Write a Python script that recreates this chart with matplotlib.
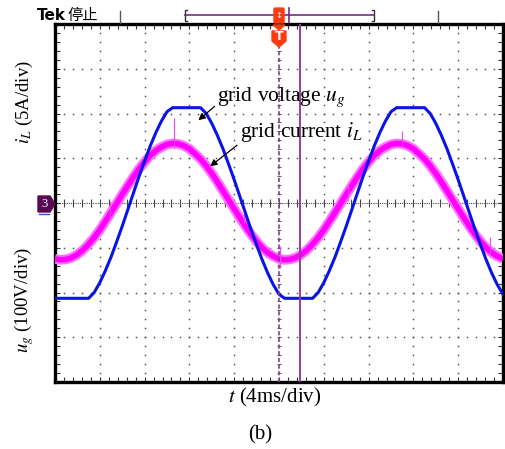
import matplotlib
matplotlib.use("Agg")
import matplotlib.pyplot as plt
from matplotlib.patches import Polygon, FancyBboxPatch
from matplotlib.ticker import MultipleLocator

# --- data (time in ms, amplitude in divisions), 0.5 ms steps ---
t_ms = [k * 0.5 for k in range(81)]
u_grid = [-2.13, -2.13, -2.13, -2.13, -2.13, -2.13, -2.13, -2.00, -1.78, -1.51,
          -1.21, -0.87, -0.52, -0.15, 0.22, 0.59, 0.94, 1.27, 1.57, 1.83,
          2.04, 2.13, 2.13, 2.13, 2.13, 2.13, 2.13, 2.00, 1.78, 1.51,
          1.21, 0.87, 0.52, 0.15, -0.22, -0.59, -0.94, -1.27, -1.57, -1.83,
          -2.04, -2.13, -2.13, -2.13, -2.13, -2.13, -2.13, -2.00, -1.78, -1.51,
          -1.21, -0.87, -0.52, -0.15, 0.22, 0.59, 0.94, 1.27, 1.57, 1.83,
          2.04, 2.13, 2.13, 2.13, 2.13, 2.13, 2.13, 2.00, 1.78, 1.51,
          1.21, 0.87, 0.52, 0.15, -0.22, -0.59, -0.94, -1.27, -1.57, -1.83, -2.04]
i_grid = [-1.25, -1.27, -1.26, -1.22, -1.15, -1.05, -0.92, -0.77, -0.60, -0.41,
          -0.21, -0.01, 0.19, 0.39, 0.58, 0.76, 0.92, 1.06, 1.17, 1.25,
          1.31, 1.33, 1.32, 1.28, 1.21, 1.10, 0.98, 0.83, 0.66, 0.47,
          0.27, 0.07, -0.13, -0.33, -0.52, -0.70, -0.86, -1.00, -1.11, -1.19,
          -1.25, -1.27, -1.26, -1.22, -1.15, -1.05, -0.92, -0.77, -0.60, -0.41,
          -0.21, -0.01, 0.19, 0.39, 0.58, 0.76, 0.92, 1.06, 1.17, 1.25,
          1.31, 1.33, 1.32, 1.28, 1.21, 1.10, 0.98, 0.83, 0.66, 0.47,
          0.27, 0.07, -0.13, -0.33, -0.52, -0.70, -0.86, -1.00, -1.11, -1.19, -1.25]
# a few visible noise spikes on the current trace
spike_t = [4.9, 10.6, 16.9, 20.1, 26.2, 31.0, 38.8]
spike_lo = [-0.35, 1.20, -0.45, -1.45, 0.05, 1.25, -1.15]
spike_hi = [0.05, 1.90, -0.15, -0.95, 0.40, 1.62, -0.75]

T_DIV, Y_DIV = 4.0, 1.0
N_X, N_Y = 10, 8
TRIG_T = 20.0
CURSOR_T = 21.9

W, H = 505, 449
plt.rcParams['font.family'] = ['Liberation Serif', 'DejaVu Serif']
plt.rcParams['mathtext.fontset'] = 'stix'

fig = plt.figure(figsize=(W / 100, H / 100), dpi=100)
ax = fig.add_axes([55 / W, 1 - 382 / H, 448 / W, 358 / H])
ax.set_xlim(0, N_X * T_DIV)
ax.set_ylim(-N_Y / 2, N_Y / 2)


def px(x, y):
    return x / W, 1 - y / H


# --- graticule: dotted division lines, ticked centre lines ---
dot_x = [k * T_DIV / 5 for k in range(N_X * 5 + 1)]
dot_y = [-4 + k * 0.2 for k in range(N_Y * 5 + 1)]
for k in range(1, N_X):
    if k == N_X // 2:
        continue
    ax.plot([k * T_DIV] * len(dot_y), dot_y, ls='none', marker='s', ms=1.1, color='#555555', mew=0)
for k in range(1, N_Y):
    if k == N_Y // 2:
        continue
    ax.plot(dot_x, [-4 + k] * len(dot_x), ls='none', marker='s', ms=1.1, color='#555555', mew=0)
ax.plot([0, 40], [0, 0], ls=(0, (1, 1)), lw=0.8, color='#444444')
ax.plot(dot_x, [0] * len(dot_x), ls='none', marker='|', ms=6, mew=0.8, color='#444444')
ax.plot([TRIG_T] * len(dot_y), dot_y, ls='none', marker='_', ms=3.5, mew=0.7, color='#555555')

# border ticks
ax.xaxis.set_major_locator(MultipleLocator(T_DIV))
ax.xaxis.set_minor_locator(MultipleLocator(T_DIV / 5))
ax.yaxis.set_major_locator(MultipleLocator(Y_DIV))
ax.yaxis.set_minor_locator(MultipleLocator(Y_DIV / 5))
ax.tick_params(which='both', direction='in', top=True, right=True, labelbottom=False, labelleft=False,
               length=3.5, width=0.8, color='#333333')
for s in ax.spines.values():
    s.set_linewidth(2.4)

# --- traces ---
ax.plot(t_ms, i_grid, color='#ff70ff', lw=7, solid_capstyle='butt', zorder=3)
ax.plot(t_ms, i_grid, color='#ff00ff', lw=4, solid_capstyle='butt', zorder=3)
ax.vlines(spike_t, spike_lo, spike_hi, color='#ff40ff', lw=0.8, zorder=3)
ax.plot(t_ms, u_grid, color='#0a14e6', lw=2.2, zorder=4)

# trigger position (dashed) and cursor (solid)
ax.axvline(TRIG_T, color='#8a3a96', lw=1.2, ls=(0, (2.5, 1.5)), zorder=5)
ax.axvline(CURSOR_T, color='#9a3aa0', lw=1.4, zorder=5)

# --- annotations ---
arrow = dict(arrowstyle='-|>', color='black', lw=0.9, mutation_scale=10, shrinkA=0, shrinkB=0)
ax.annotate('grid voltage $u_g$', xy=(12.8, 1.85), xytext=(14.5, 2.37),
            fontsize=15.5, va='center', ha='left', arrowprops=dict(arrow, relpos=(0, 0.2)), zorder=6)
ax.annotate('grid current $i_L$', xy=(13.85, 0.82), xytext=(16.5, 1.58),
            fontsize=15.5, va='center', ha='left', arrowprops=dict(arrow, relpos=(0, 0.05)), zorder=6)

fig.text(*px(24, 102), '$i_L$ (5A/div)', rotation=90, fontsize=13.5, ha='center', va='center')
fig.text(*px(24, 300), '$u_g$ (100V/div)', rotation=90, fontsize=13.5, ha='center', va='center')
fig.text(*px(275, 397), '$t$ (4ms/div)', fontsize=15, ha='center', va='center')
fig.text(*px(260, 435), '(b)', fontsize=15, ha='center', va='center')

# --- scope header decorations ---
fig.text(*px(37, 15), 'Tek', fontsize=11, fontweight='bold', family=['DejaVu Sans'], ha='left', va='center')
fig.text(*px(68, 15), '停止', fontsize=11, family=['Noto Sans CJK SC', 'DejaVu Sans'], ha='left', va='center')
for xx in (120, 438):
    fig.add_artist(plt.Line2D([xx / W] * 2, [1 - 11 / H, 1 - 23 / H], color='#555555', lw=1))
fig.add_artist(plt.Line2D([185 / W, 374 / W], [1 - 15 / H] * 2, color='#7a2a8a', lw=1.2))
for xx, d in ((185, 1), (374, -1)):
    fig.add_artist(plt.Line2D([(xx + 2 * d) / W, xx / W, xx / W, (xx + 2 * d) / W],
                              [1 - 10 / H, 1 - 10 / H, 1 - 21 / H, 1 - 21 / H], color='#333333', lw=1))
fig.add_artist(plt.Line2D([289 / W] * 2, [1 - 8 / H, 1 - 22 / H], color='#7a2a8a', lw=1.2))
fig.add_artist(FancyBboxPatch(px(275, 22), 8 / W, 13 / H, boxstyle='round,pad=0.002', transform=fig.transFigure,
                              color='#ff3a10', zorder=6))
fig.text(*px(279, 15), '↕', fontsize=6, color='white', ha='center', va='center', family=['DejaVu Sans'], zorder=7)
fig.add_artist(Polygon([px(273, 25), px(285, 25), px(279, 30)], closed=True, transform=fig.transFigure,
                       color='#ff3a10', zorder=6))
fig.add_artist(Polygon([px(272, 31), px(286, 31), px(286, 41), px(279, 47), px(272, 41)], closed=True,
                       transform=fig.transFigure, color='#ff3a10', zorder=6))
fig.text(*px(279, 37), 'T', fontsize=9, fontweight='bold', color='white', ha='center', va='center',
         family=['DejaVu Sans'], zorder=7)

# channel 3 ground marker
fig.add_artist(Polygon([px(38, 196), px(50, 196), px(55, 204), px(50, 212), px(38, 212)], closed=True,
                       transform=fig.transFigure, color='#5a0a55', zorder=6))
fig.text(*px(45, 204), '3', fontsize=9, color='white', ha='center', va='center', zorder=7)
fig.add_artist(plt.Line2D([39 / W, 49 / W], [1 - 214 / H] * 2, color='#3050c0', lw=1, zorder=6))

fig.savefig('out.png', dpi=100)
